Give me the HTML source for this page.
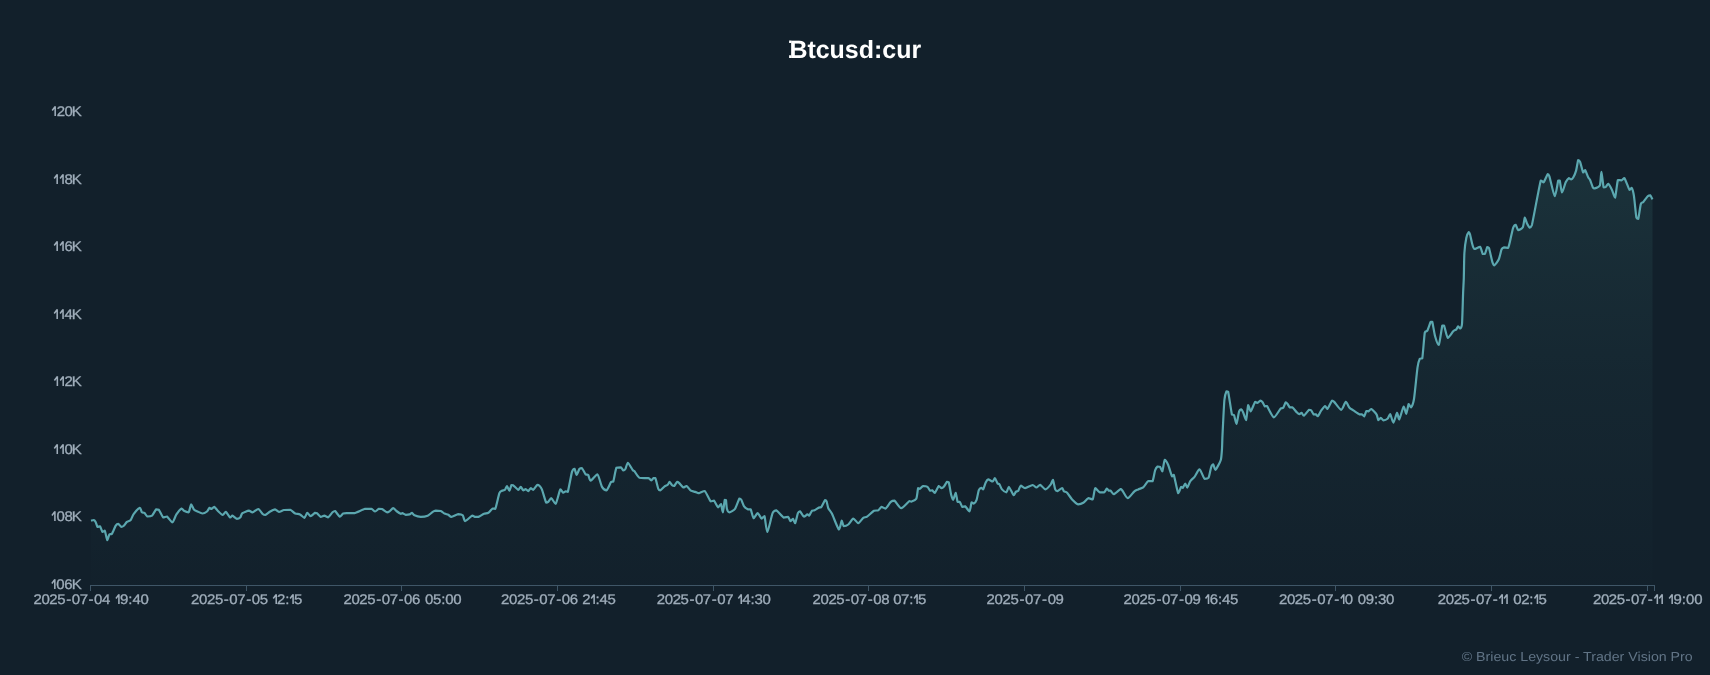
<!DOCTYPE html>
<html><head><meta charset="utf-8"><title>Btcusd:cur</title>
<style>
html,body{margin:0;padding:0;background:#12202b;}
body{width:1710px;height:675px;overflow:hidden;font-family:"Liberation Sans",sans-serif;}
svg{display:block;font-family:"Liberation Sans",sans-serif;will-change:transform;}
text{text-rendering:geometricPrecision;}
</style></head><body>
<svg width="1710" height="675" viewBox="0 0 1710 675">
<defs><linearGradient id="g" x1="0" y1="160" x2="0" y2="585" gradientUnits="userSpaceOnUse"><stop offset="0" stop-color="#55a9a2" stop-opacity="0.135"/><stop offset="0.235" stop-color="#55a9a2" stop-opacity="0.092"/><stop offset="0.5" stop-color="#55a9a2" stop-opacity="0.052"/><stop offset="1" stop-color="#55a9a2" stop-opacity="0.005"/></linearGradient></defs>
<rect width="1710" height="675" fill="#12202b"/>
<path d="M91.0 520.7 C91.34 520.62 93.25 520.00 93.8 520.0 C94.35 520.14 95.16 521.07 95.6 521.9 C96.04 522.73 96.97 526.37 97.5 526.9 C98.03 526.90 99.40 526.30 100.0 526.3 C100.60 526.90 101.92 531.37 102.5 531.9 C103.08 531.90 104.22 530.70 104.8 530.7 C105.38 531.68 106.75 539.66 107.3 540.1 C107.85 540.10 108.85 535.16 109.4 534.4 C109.95 533.80 111.14 534.40 111.9 533.8 C112.66 532.76 114.94 526.90 115.7 525.7 C116.46 524.50 117.53 523.80 118.2 523.8 C118.87 523.94 120.63 526.67 121.3 526.9 C121.97 526.90 123.13 526.30 123.8 525.7 C124.47 525.10 126.07 522.58 126.9 521.9 C127.73 521.22 129.87 520.97 130.7 520.0 C131.53 519.03 132.71 515.26 133.8 513.8 C134.89 512.34 138.83 507.98 139.8 507.8 C140.77 507.80 141.35 511.70 141.9 512.3 C142.45 512.80 143.75 512.30 144.4 512.8 C145.05 513.30 146.39 516.15 147.3 516.5 C148.21 516.50 150.94 516.50 152.0 515.7 C153.06 514.85 155.28 510.11 156.1 509.4 C156.92 509.40 157.95 509.40 158.8 509.8 C159.65 510.77 162.22 516.70 163.2 517.5 C164.18 517.50 165.90 516.50 167.0 516.5 C168.10 517.08 171.27 522.30 172.4 522.3 C173.53 522.05 175.30 516.06 176.4 514.4 C177.50 512.74 180.70 508.94 181.6 508.5 C182.50 508.50 183.06 510.24 183.9 510.7 C184.74 511.16 187.74 512.30 188.6 512.3 C189.46 511.54 190.46 504.75 191.1 504.4 C191.74 504.40 193.12 508.55 193.9 509.4 C194.68 510.25 196.58 511.01 197.6 511.5 C198.62 511.99 201.27 513.50 202.4 513.5 C203.53 513.50 206.15 512.18 207.0 511.5 C207.85 510.82 208.97 508.10 209.5 507.8 C210.03 507.80 210.84 509.00 211.4 509.0 C211.96 508.89 213.44 506.90 214.2 506.9 C214.96 507.10 216.68 509.73 217.7 510.7 C218.72 511.67 221.73 514.86 222.7 515.0 C223.67 515.00 224.90 511.90 225.8 511.9 C226.70 512.20 229.41 517.04 230.2 517.5 C230.99 517.50 231.62 515.70 232.4 515.7 C233.18 515.86 235.76 518.58 236.7 518.8 C237.64 518.80 239.52 518.17 240.2 517.5 C240.88 516.83 241.36 514.02 242.4 513.2 C243.44 512.38 247.70 510.81 248.9 510.7 C250.10 510.70 251.27 512.30 252.4 512.3 C253.53 512.10 257.06 509.00 258.3 509.0 C259.54 509.20 261.87 513.28 262.7 514.0 C263.53 514.72 264.30 515.00 265.2 515.0 C266.10 514.70 269.02 512.17 270.2 511.5 C271.38 510.83 273.94 509.40 275.0 509.4 C276.06 509.45 277.92 511.83 279.0 511.9 C280.08 511.90 282.66 510.25 284.0 510.0 C285.34 509.80 288.86 509.80 290.2 509.8 C291.54 510.22 294.02 512.95 295.2 513.5 C296.38 514.05 298.90 513.88 300.0 514.4 C301.10 514.92 303.52 517.80 304.4 517.8 C305.28 517.61 306.56 513.00 307.3 512.8 C308.04 512.80 309.68 516.10 310.6 516.1 C311.52 516.10 314.24 513.15 315.0 512.8 C315.76 512.80 316.22 512.80 316.9 513.2 C317.58 513.69 319.80 516.60 320.7 516.9 C321.60 516.90 323.50 515.70 324.4 515.7 C325.30 515.75 327.23 517.30 328.2 517.3 C329.17 516.89 331.68 513.06 332.5 512.3 C333.32 511.54 334.12 511.00 335.0 511.0 C335.88 511.52 338.82 516.29 339.8 516.6 C340.78 516.60 342.26 514.01 343.2 513.6 C344.14 513.20 346.26 513.25 347.6 513.2 C348.94 513.20 352.30 513.20 354.4 513.2 C356.50 512.67 363.07 509.33 365.1 508.8 C367.13 508.80 370.10 508.80 371.3 508.8 C372.50 509.12 374.20 511.50 375.1 511.5 C376.00 511.50 377.97 509.10 378.8 508.8 C379.63 508.80 381.02 508.80 382.0 509.0 C382.98 509.42 386.10 512.02 387.0 512.3 C387.90 512.30 388.76 511.79 389.5 511.3 C390.24 510.81 392.37 508.24 393.2 508.2 C394.03 508.20 395.50 510.33 396.4 511.0 C397.30 511.67 399.98 513.54 400.7 513.8 C401.42 513.80 401.79 513.20 402.4 513.2 C403.01 513.32 404.95 514.66 405.8 514.8 C406.65 514.80 408.76 514.64 409.5 514.4 C410.24 514.16 411.40 512.80 412.0 512.8 C412.60 512.91 413.44 514.81 414.5 515.3 C415.56 515.79 419.22 516.85 420.8 516.9 C422.38 516.90 426.27 516.30 427.7 515.7 C429.13 515.10 431.73 512.50 432.7 511.9 C433.67 511.30 434.83 510.81 435.8 510.7 C436.77 510.70 439.76 510.70 440.8 511.0 C441.84 511.35 443.60 513.14 444.5 513.6 C445.40 514.06 447.47 514.40 448.3 514.8 C449.13 515.20 450.20 516.90 451.4 516.9 C452.60 516.82 456.94 514.29 458.3 514.1 C459.66 514.10 461.87 514.46 462.7 515.3 C463.53 516.14 464.07 521.05 465.2 521.1 C466.33 521.10 470.90 516.20 472.1 515.7 C473.30 515.70 474.46 516.76 475.2 516.9 C475.94 516.90 477.24 516.90 478.3 516.9 C479.36 516.53 482.79 514.29 484.0 513.8 C485.21 513.31 487.38 513.42 488.4 512.8 C489.42 512.18 491.67 509.08 492.5 508.6 C493.33 508.60 494.47 508.80 495.3 508.8 C496.13 506.95 498.61 495.37 499.4 493.2 C500.19 491.03 501.23 491.11 501.9 490.7 C502.57 490.29 504.40 490.36 505.0 489.8 C505.60 489.24 506.37 486.00 506.9 486.0 C507.43 486.11 508.85 490.70 509.4 490.7 C509.95 490.58 511.04 485.65 511.5 485.0 C511.96 485.00 512.40 485.00 513.2 485.3 C514.00 485.88 517.30 489.61 518.2 489.8 C519.10 489.80 520.10 486.90 520.7 486.9 C521.30 486.96 522.60 490.04 523.2 490.3 C523.80 490.30 525.10 489.10 525.7 489.1 C526.30 489.20 527.60 491.10 528.2 491.1 C528.80 490.99 530.10 488.36 530.7 488.2 C531.30 488.20 532.41 489.80 533.2 489.8 C533.99 489.39 536.56 485.29 537.3 484.8 C538.04 484.80 538.85 485.15 539.4 485.7 C539.95 486.25 541.10 487.37 541.9 489.4 C542.70 491.43 545.34 501.10 546.1 502.6 C546.86 502.60 547.58 502.43 548.2 501.9 C548.82 501.37 550.40 498.20 551.3 498.2 C552.20 498.43 554.62 503.80 555.7 503.8 C556.78 502.74 559.40 490.74 560.3 489.4 C561.20 489.40 562.55 492.37 563.2 492.6 C563.85 492.60 565.15 491.38 565.7 491.3 C566.25 491.30 567.04 491.90 567.8 491.9 C568.56 489.57 571.20 474.67 572.0 471.9 C572.80 469.13 573.95 468.80 574.5 468.8 C575.05 469.15 576.00 474.80 576.6 474.8 C577.20 474.80 578.85 469.59 579.5 468.8 C580.15 468.20 581.26 468.20 582.0 468.2 C582.74 468.87 584.96 473.58 585.7 474.4 C586.44 475.00 587.60 474.40 588.2 475.0 C588.80 475.76 589.60 480.70 590.7 480.7 C591.80 480.63 596.04 474.40 597.4 474.4 C598.76 475.14 600.90 484.99 602.0 486.9 C603.10 488.81 605.51 490.30 606.6 490.3 C607.69 489.70 610.30 482.96 611.1 481.9 C611.90 481.50 612.66 481.90 613.3 481.5 C613.94 479.81 615.50 469.50 616.4 467.8 C617.30 467.30 619.97 467.30 620.8 467.3 C621.63 467.61 622.75 470.20 623.3 470.4 C623.85 470.40 624.85 469.91 625.4 469.0 C625.95 468.09 627.02 462.80 627.9 462.8 C628.78 462.92 631.91 468.98 632.7 470.0 C633.49 471.02 633.68 470.36 634.5 471.3 C635.32 472.24 637.84 476.97 639.5 477.8 C641.16 478.20 646.87 477.90 648.3 478.2 C649.73 478.50 650.80 480.30 651.4 480.3 C652.00 480.30 652.82 478.45 653.3 478.2 C653.78 478.20 654.80 478.20 655.4 478.2 C656.00 479.47 657.70 487.35 658.3 488.8 C658.90 490.25 659.64 490.30 660.4 490.3 C661.16 490.00 663.72 486.96 664.6 486.3 C665.48 485.64 667.10 485.33 667.7 484.8 C668.30 484.27 669.07 481.90 669.6 481.9 C670.13 481.96 671.55 484.81 672.1 485.3 C672.65 485.79 673.60 486.00 674.2 486.0 C674.80 485.59 676.52 482.28 677.1 481.9 C677.68 481.90 678.24 482.13 679.0 482.8 C679.76 483.47 682.50 487.12 683.4 487.5 C684.30 487.50 685.60 486.00 686.5 486.0 C687.40 486.38 689.86 489.99 690.9 490.7 C691.94 491.41 694.30 491.60 695.2 491.9 C696.10 492.20 697.82 493.09 698.4 493.2 C698.98 493.20 699.23 493.06 700.0 492.8 C700.77 492.54 703.53 491.00 704.8 491.0 C706.07 492.02 709.50 500.14 710.6 501.3 C711.70 501.30 713.10 500.70 714.0 500.7 C714.90 501.42 717.26 506.89 718.1 507.3 C718.94 507.30 720.44 504.10 721.0 504.1 C721.56 504.70 722.34 512.30 722.8 512.3 C723.26 511.78 724.42 501.28 724.8 499.8 C725.18 499.80 725.75 499.80 726.0 500.0 C726.25 501.08 726.49 507.32 726.9 508.8 C727.31 510.28 728.43 512.30 729.4 512.3 C730.37 512.30 733.80 510.46 735.0 508.8 C736.20 507.14 738.64 499.58 739.4 498.5 C740.16 498.50 740.74 498.86 741.3 499.8 C741.86 500.74 743.27 505.15 744.1 506.3 C744.93 507.45 747.41 509.03 748.2 509.4 C748.99 509.40 750.05 509.40 750.7 509.4 C751.35 510.46 752.77 517.74 753.6 518.2 C754.43 518.20 756.64 513.20 757.6 513.2 C758.56 513.25 760.77 518.25 761.6 518.6 C762.43 518.60 763.82 516.10 764.5 516.1 C765.18 517.71 766.33 532.00 767.3 532.0 C768.27 531.65 771.52 515.80 772.6 513.2 C773.68 510.60 774.98 510.30 776.3 510.3 C777.62 510.83 782.17 516.81 783.6 517.6 C785.03 517.60 787.38 516.90 788.2 516.9 C789.02 517.32 789.84 520.87 790.4 521.1 C790.96 521.10 792.34 518.80 792.9 518.8 C793.46 519.05 794.50 523.20 795.1 523.2 C795.70 522.53 797.32 514.63 797.9 513.2 C798.48 511.77 799.18 511.30 799.9 511.3 C800.62 511.71 803.00 516.23 803.9 516.6 C804.80 516.60 806.78 514.51 807.4 514.4 C808.02 514.40 808.55 515.70 809.1 515.7 C809.65 515.26 811.35 511.35 812.0 510.7 C812.65 510.30 813.67 510.67 814.5 510.3 C815.33 509.93 818.11 507.96 818.9 507.6 C819.69 507.30 820.36 507.60 821.1 507.3 C821.84 506.39 824.44 500.72 825.1 500.0 C825.76 500.00 826.22 500.32 826.6 501.3 C826.98 502.28 827.65 506.70 828.3 508.2 C828.95 509.70 830.73 511.24 832.0 513.8 C833.27 516.36 837.74 528.67 838.9 529.5 C840.06 529.50 841.12 521.11 841.7 520.7 C842.28 520.70 842.91 525.64 843.7 526.1 C844.49 526.10 847.15 525.40 848.3 524.5 C849.45 523.60 852.10 518.76 853.3 518.6 C854.50 518.60 857.10 523.20 858.3 523.2 C859.50 523.10 862.24 518.59 863.3 517.8 C864.36 517.01 865.82 517.45 867.1 516.6 C868.38 515.75 872.66 511.46 874.0 510.7 C875.34 510.30 877.40 510.70 878.3 510.3 C879.20 509.84 880.64 507.10 881.5 506.9 C882.36 506.90 884.38 508.60 885.5 508.6 C886.62 508.00 889.71 502.85 890.8 501.9 C891.89 500.95 893.35 500.70 894.6 500.7 C895.85 501.46 899.42 508.15 901.2 508.2 C902.98 508.20 908.19 501.89 909.4 501.1 C910.35 501.10 910.47 501.60 911.3 501.6 C912.13 501.32 915.48 500.41 916.3 498.8 C917.12 497.19 917.68 489.40 918.1 488.2 C918.52 488.20 919.20 488.80 919.8 488.8 C920.40 488.54 922.18 486.23 923.1 486.0 C924.02 486.00 926.67 486.34 927.5 486.9 C928.33 487.46 929.42 490.29 930.0 490.7 C930.58 490.70 931.72 490.30 932.3 490.3 C932.88 490.55 934.02 492.80 934.8 492.8 C935.58 492.28 938.00 486.55 938.8 486.0 C939.60 486.00 940.88 488.14 941.5 488.2 C942.12 488.20 943.35 487.26 944.0 486.5 C944.65 485.74 946.32 482.40 946.9 481.9 C947.48 481.90 948.30 481.90 948.8 482.3 C949.30 483.80 950.57 492.30 951.1 494.4 C951.63 496.50 952.65 499.80 953.2 499.8 C953.75 499.61 955.17 492.80 955.7 492.8 C956.23 493.05 957.11 500.81 957.6 501.9 C958.09 501.90 959.24 501.90 959.8 501.9 C960.36 502.50 961.66 506.37 962.3 506.9 C962.94 506.90 964.24 506.30 965.1 506.3 C965.96 506.83 968.72 511.30 969.5 511.3 C970.28 510.82 971.08 503.22 971.6 502.3 C972.12 502.30 973.20 503.60 973.8 503.6 C974.40 503.30 976.00 501.42 976.6 499.8 C977.20 498.18 978.24 491.54 978.8 490.1 C979.36 488.66 980.77 487.88 981.3 487.8 C981.83 487.80 982.67 489.40 983.2 489.4 C983.73 488.76 985.10 483.70 985.7 482.5 C986.30 481.30 987.37 479.52 988.2 479.4 C989.03 479.40 991.80 481.50 992.6 481.5 C993.40 481.36 994.30 478.20 994.9 478.2 C995.50 478.44 997.05 482.76 997.6 483.5 C998.15 484.24 998.97 483.69 999.5 484.4 C1000.03 485.11 1001.17 488.45 1002.0 489.4 C1002.83 490.35 1005.57 492.30 1006.4 492.3 C1007.23 492.00 1008.04 486.90 1008.9 486.9 C1009.76 487.24 1012.77 494.50 1013.6 495.1 C1014.43 495.10 1015.24 492.43 1015.8 491.9 C1016.36 491.37 1017.70 491.44 1018.3 490.7 C1018.90 489.96 1019.98 486.00 1020.8 485.7 C1021.62 485.70 1023.68 488.20 1025.1 488.2 C1026.52 488.12 1031.24 485.08 1032.6 485.0 C1033.96 485.00 1035.49 487.50 1036.4 487.5 C1037.31 487.48 1039.12 484.80 1040.2 484.8 C1041.28 485.03 1044.13 489.40 1045.4 489.4 C1046.67 489.35 1049.90 485.55 1050.8 484.4 C1051.70 483.25 1052.37 479.80 1052.9 479.8 C1053.43 480.40 1054.66 488.04 1055.2 489.4 C1055.74 490.76 1056.57 491.10 1057.4 491.1 C1058.23 490.96 1061.32 488.20 1062.1 488.2 C1062.88 488.22 1063.30 490.75 1063.9 491.3 C1064.50 491.85 1066.12 491.83 1067.1 492.8 C1068.08 493.77 1070.76 498.01 1072.1 499.4 C1073.44 500.79 1076.96 503.99 1078.3 504.4 C1079.64 504.40 1082.10 503.54 1083.3 502.8 C1084.50 502.06 1087.17 498.61 1088.3 498.2 C1089.43 498.20 1091.87 499.40 1092.7 499.4 C1093.53 498.20 1094.37 489.05 1095.2 488.2 C1096.03 488.20 1098.52 491.81 1099.6 492.3 C1100.68 492.30 1103.32 492.30 1104.2 492.3 C1105.08 491.86 1106.35 488.79 1106.9 488.6 C1107.45 488.60 1108.36 490.45 1108.8 490.7 C1109.24 490.70 1109.98 490.70 1110.6 490.7 C1111.22 491.11 1112.80 494.10 1114.0 494.1 C1115.20 493.91 1119.58 489.51 1120.6 489.1 C1121.55 489.10 1121.64 489.61 1122.5 490.7 C1123.36 491.79 1126.37 498.13 1127.8 498.2 C1129.23 498.20 1133.15 492.36 1134.4 491.3 C1135.65 490.24 1137.14 489.88 1138.2 489.4 C1139.26 488.92 1142.00 488.30 1143.2 487.3 C1144.40 486.30 1147.07 481.84 1148.2 481.1 C1149.33 481.10 1151.77 481.10 1152.6 481.1 C1153.43 479.80 1154.50 472.05 1155.1 470.3 C1155.70 468.55 1157.00 466.91 1157.6 466.5 C1158.20 466.50 1159.54 466.50 1160.1 466.9 C1160.66 467.48 1161.74 471.30 1162.3 471.3 C1162.86 470.45 1164.09 460.56 1164.8 459.8 C1165.51 459.80 1167.34 463.02 1168.2 465.0 C1169.06 466.98 1171.33 475.12 1172.0 476.3 C1172.67 476.30 1173.06 474.80 1173.8 474.8 C1174.54 476.83 1177.32 491.75 1178.2 493.2 C1179.08 493.20 1180.55 487.55 1181.1 486.9 C1181.65 486.90 1182.30 487.80 1182.8 487.8 C1183.30 487.40 1184.76 483.62 1185.3 483.6 C1185.84 483.60 1186.70 487.60 1187.3 487.6 C1187.90 487.30 1189.44 482.38 1190.3 481.1 C1191.16 479.82 1193.40 478.30 1194.5 476.9 C1195.60 475.50 1198.30 469.40 1199.5 469.4 C1200.70 469.63 1203.41 477.82 1204.5 478.8 C1205.59 478.80 1207.81 478.80 1208.6 477.6 C1209.39 476.22 1210.54 468.88 1211.1 467.3 C1211.66 465.72 1212.78 464.40 1213.3 464.4 C1213.82 464.70 1214.50 469.80 1215.4 469.8 C1216.30 469.27 1220.01 462.52 1220.8 460.0 C1221.40 458.09 1221.80 451.79 1222.0 448.8 C1222.20 445.81 1222.25 440.18 1222.5 435.1 C1222.79 429.24 1223.92 405.26 1224.4 400.0 C1224.88 394.74 1226.04 392.27 1226.5 391.3 C1226.96 391.30 1227.55 391.30 1228.2 391.9 C1228.85 394.67 1231.20 411.62 1231.9 414.4 C1232.60 415.10 1233.45 414.40 1234.0 415.1 C1234.55 416.23 1235.90 423.80 1236.5 423.8 C1237.10 423.42 1238.42 413.63 1239.0 411.9 C1239.58 410.17 1240.80 409.40 1241.3 409.4 C1241.80 409.47 1242.62 411.22 1243.2 412.5 C1243.78 413.78 1245.50 420.10 1246.1 420.1 C1246.70 419.20 1247.65 406.06 1248.2 405.0 C1248.75 405.00 1249.87 411.30 1250.7 411.3 C1251.53 410.93 1254.27 402.92 1255.1 401.9 C1255.93 401.90 1256.98 402.80 1257.6 402.8 C1258.22 402.66 1259.70 400.76 1260.3 400.7 C1260.90 400.70 1262.06 401.63 1262.6 402.3 C1263.14 402.97 1264.27 405.86 1264.8 406.3 C1265.33 406.30 1265.92 406.00 1267.0 406.0 C1268.08 407.32 1272.16 417.00 1273.8 417.3 C1275.44 417.30 1279.57 409.64 1280.7 408.5 C1281.83 407.80 1282.60 408.50 1283.2 407.8 C1283.80 407.06 1285.17 402.76 1285.7 402.3 C1286.23 402.30 1287.10 403.38 1287.6 404.0 C1288.10 404.62 1289.32 407.10 1289.9 407.5 C1290.48 407.50 1291.55 407.30 1292.4 407.3 C1293.25 407.90 1296.15 411.68 1297.0 412.5 C1297.85 413.32 1298.95 414.06 1299.5 414.1 C1300.05 414.10 1301.07 412.80 1301.6 412.8 C1302.13 412.99 1303.02 415.70 1303.9 415.7 C1304.78 415.34 1308.04 410.45 1308.9 409.8 C1309.76 409.80 1310.54 409.80 1311.1 410.3 C1311.66 410.85 1313.04 413.91 1313.6 414.4 C1314.16 414.40 1315.28 414.40 1315.8 414.4 C1316.32 414.60 1317.26 416.10 1317.9 416.1 C1318.54 415.66 1320.24 411.91 1321.1 410.7 C1321.96 409.49 1324.34 406.20 1325.1 406.0 C1325.86 406.00 1326.57 409.00 1327.4 409.0 C1328.23 408.36 1331.18 401.55 1332.0 400.7 C1332.82 400.70 1333.10 400.81 1334.2 401.9 C1335.30 402.99 1339.81 409.80 1341.2 409.8 C1342.59 409.80 1344.80 402.14 1345.8 401.9 C1346.80 401.90 1348.60 406.79 1349.5 407.8 C1350.40 408.81 1352.09 409.51 1353.3 410.3 C1354.51 411.09 1358.54 413.91 1359.6 414.4 C1360.66 414.40 1361.55 414.40 1362.1 414.4 C1362.65 414.63 1363.68 416.30 1364.2 416.3 C1364.72 415.89 1365.86 411.60 1366.4 411.0 C1366.94 411.00 1368.12 411.30 1368.7 411.3 C1369.28 411.06 1370.26 409.00 1371.2 409.0 C1372.14 409.37 1375.65 413.07 1376.5 414.4 C1377.35 415.73 1377.78 419.69 1378.3 420.1 C1378.82 420.10 1380.20 417.80 1380.8 417.8 C1381.40 417.82 1382.50 420.18 1383.3 420.3 C1384.10 420.30 1386.67 419.54 1387.5 418.8 C1388.33 418.06 1389.49 414.10 1390.2 414.1 C1390.91 414.56 1392.57 422.60 1393.4 422.6 C1394.23 422.44 1396.40 413.18 1397.1 412.8 C1397.80 412.80 1398.41 419.40 1399.2 419.4 C1399.99 418.64 1402.86 407.17 1403.7 406.5 C1404.54 406.50 1405.60 413.80 1406.2 413.8 C1406.80 413.50 1408.14 404.76 1408.7 404.0 C1409.26 404.00 1410.26 407.50 1410.9 407.5 C1411.54 406.90 1413.21 403.79 1414.0 399.0 C1414.79 394.21 1416.80 372.42 1417.5 367.6 C1418.20 362.78 1419.22 359.93 1419.8 358.8 C1420.38 358.20 1421.70 358.80 1422.3 358.2 C1422.90 355.04 1424.20 335.81 1424.8 332.5 C1425.40 330.60 1426.59 331.87 1427.3 330.6 C1428.01 329.33 1430.10 322.94 1430.7 321.9 C1431.30 321.90 1431.77 321.90 1432.3 321.9 C1432.83 323.63 1434.32 333.53 1435.1 336.3 C1435.88 339.07 1437.94 345.00 1438.8 345.0 C1439.66 343.72 1441.66 327.93 1442.3 325.6 C1442.94 325.60 1443.44 325.60 1444.1 325.6 C1444.76 327.06 1446.71 337.12 1447.8 337.8 C1448.89 337.80 1452.18 332.31 1453.2 331.3 C1454.22 330.29 1455.70 330.00 1456.3 329.4 C1456.90 328.80 1457.74 326.41 1458.2 326.3 C1458.66 326.30 1459.64 328.50 1460.1 328.5 C1460.56 328.22 1461.64 328.25 1462.0 324.0 C1462.36 319.75 1462.88 298.61 1463.1 293.1 C1463.32 287.59 1463.64 282.91 1463.8 278.1 C1463.96 273.29 1464.10 257.81 1464.4 253.0 C1464.70 248.19 1465.77 240.52 1466.3 238.0 C1466.83 235.48 1468.36 232.44 1468.8 232.0 C1469.24 232.00 1469.58 232.82 1470.0 234.3 C1470.42 235.78 1471.77 242.54 1472.3 244.3 C1472.83 246.06 1473.48 248.70 1474.4 249.0 C1475.32 249.00 1478.99 246.80 1480.0 246.8 C1481.01 247.40 1482.20 253.17 1482.8 254.0 C1483.40 254.00 1484.46 254.00 1485.0 253.7 C1485.54 252.86 1486.82 247.68 1487.3 247.0 C1487.78 247.00 1488.38 247.00 1489.0 248.0 C1489.62 249.85 1491.85 260.32 1492.5 262.4 C1493.15 264.48 1493.64 265.30 1494.4 265.3 C1495.16 264.93 1497.94 261.22 1498.8 259.3 C1499.66 257.38 1500.96 250.73 1501.6 249.3 C1502.24 247.87 1503.31 247.58 1504.1 247.4 C1504.89 247.40 1507.34 247.80 1508.2 247.8 C1509.06 246.37 1510.70 237.92 1511.3 235.5 C1511.90 233.08 1512.67 228.88 1513.2 227.6 C1513.73 226.32 1515.10 224.80 1515.7 224.8 C1516.30 225.10 1517.35 229.80 1518.2 230.1 C1519.05 230.10 1522.01 228.80 1522.8 227.3 C1523.59 225.80 1524.31 218.09 1524.8 217.6 C1525.29 217.60 1526.30 222.00 1526.9 223.2 C1527.50 224.40 1529.20 227.37 1529.8 227.6 C1530.40 227.60 1530.85 227.60 1531.9 225.1 C1533.21 219.47 1539.30 185.84 1540.7 180.7 C1542.10 180.70 1542.75 182.30 1543.6 182.3 C1544.45 181.50 1547.10 174.72 1547.8 174.0 C1548.50 174.00 1548.60 174.00 1549.4 176.3 C1550.24 178.95 1553.74 195.57 1554.8 196.1 C1555.86 196.10 1557.60 182.55 1558.2 180.7 C1558.80 180.70 1559.34 180.70 1559.8 180.7 C1560.26 182.12 1561.29 192.31 1562.0 192.5 C1562.71 192.50 1564.88 184.02 1565.7 182.3 C1566.52 180.58 1568.15 178.55 1568.8 178.2 C1569.45 178.20 1570.57 179.40 1571.1 179.4 C1571.63 179.32 1572.60 178.56 1573.2 177.5 C1573.80 176.44 1575.50 172.70 1576.1 170.6 C1576.70 168.50 1577.72 161.04 1578.2 160.0 C1578.68 160.00 1579.50 160.40 1580.1 161.9 C1580.70 163.40 1582.60 171.53 1583.2 172.5 C1583.80 172.50 1584.50 170.00 1585.1 170.0 C1585.70 170.58 1587.60 176.10 1588.2 177.3 C1588.80 178.50 1589.54 178.78 1590.1 180.0 C1590.66 181.22 1592.37 186.48 1592.9 187.5 C1593.43 188.50 1593.70 188.50 1594.5 188.5 C1595.34 188.24 1599.07 187.29 1599.9 185.3 C1600.65 183.50 1600.96 171.90 1601.4 171.9 C1601.84 172.14 1603.07 185.50 1603.6 187.3 C1604.13 187.30 1605.24 187.30 1605.8 186.9 C1606.36 186.48 1607.56 183.80 1608.3 183.8 C1609.04 184.17 1611.18 188.34 1612.0 190.0 C1612.82 191.66 1614.39 197.60 1615.1 197.6 C1615.81 196.40 1617.11 182.08 1617.9 180.0 C1618.69 180.00 1620.91 180.30 1621.7 180.3 C1622.49 180.08 1623.56 178.20 1624.5 178.2 C1625.44 179.34 1628.64 188.65 1629.5 189.8 C1630.36 189.80 1631.17 187.80 1631.7 187.8 C1632.23 188.51 1633.34 192.12 1633.9 195.7 C1634.46 199.28 1635.87 214.83 1636.4 217.6 C1636.93 218.80 1637.77 218.80 1638.3 218.8 C1638.83 217.18 1640.20 206.13 1640.8 204.1 C1641.40 202.07 1642.47 202.84 1643.3 201.9 C1644.13 200.96 1646.87 197.09 1647.7 196.3 C1648.53 195.51 1649.62 195.30 1650.2 195.3 C1650.78 195.67 1652.22 198.91 1652.5 199.4 L1652.5 585.5 L91.0 585.5 Z" fill="url(#g)"/>
<path d="M91.0 520.7 C91.34 520.62 93.25 520.00 93.8 520.0 C94.35 520.14 95.16 521.07 95.6 521.9 C96.04 522.73 96.97 526.37 97.5 526.9 C98.03 526.90 99.40 526.30 100.0 526.3 C100.60 526.90 101.92 531.37 102.5 531.9 C103.08 531.90 104.22 530.70 104.8 530.7 C105.38 531.68 106.75 539.66 107.3 540.1 C107.85 540.10 108.85 535.16 109.4 534.4 C109.95 533.80 111.14 534.40 111.9 533.8 C112.66 532.76 114.94 526.90 115.7 525.7 C116.46 524.50 117.53 523.80 118.2 523.8 C118.87 523.94 120.63 526.67 121.3 526.9 C121.97 526.90 123.13 526.30 123.8 525.7 C124.47 525.10 126.07 522.58 126.9 521.9 C127.73 521.22 129.87 520.97 130.7 520.0 C131.53 519.03 132.71 515.26 133.8 513.8 C134.89 512.34 138.83 507.98 139.8 507.8 C140.77 507.80 141.35 511.70 141.9 512.3 C142.45 512.80 143.75 512.30 144.4 512.8 C145.05 513.30 146.39 516.15 147.3 516.5 C148.21 516.50 150.94 516.50 152.0 515.7 C153.06 514.85 155.28 510.11 156.1 509.4 C156.92 509.40 157.95 509.40 158.8 509.8 C159.65 510.77 162.22 516.70 163.2 517.5 C164.18 517.50 165.90 516.50 167.0 516.5 C168.10 517.08 171.27 522.30 172.4 522.3 C173.53 522.05 175.30 516.06 176.4 514.4 C177.50 512.74 180.70 508.94 181.6 508.5 C182.50 508.50 183.06 510.24 183.9 510.7 C184.74 511.16 187.74 512.30 188.6 512.3 C189.46 511.54 190.46 504.75 191.1 504.4 C191.74 504.40 193.12 508.55 193.9 509.4 C194.68 510.25 196.58 511.01 197.6 511.5 C198.62 511.99 201.27 513.50 202.4 513.5 C203.53 513.50 206.15 512.18 207.0 511.5 C207.85 510.82 208.97 508.10 209.5 507.8 C210.03 507.80 210.84 509.00 211.4 509.0 C211.96 508.89 213.44 506.90 214.2 506.9 C214.96 507.10 216.68 509.73 217.7 510.7 C218.72 511.67 221.73 514.86 222.7 515.0 C223.67 515.00 224.90 511.90 225.8 511.9 C226.70 512.20 229.41 517.04 230.2 517.5 C230.99 517.50 231.62 515.70 232.4 515.7 C233.18 515.86 235.76 518.58 236.7 518.8 C237.64 518.80 239.52 518.17 240.2 517.5 C240.88 516.83 241.36 514.02 242.4 513.2 C243.44 512.38 247.70 510.81 248.9 510.7 C250.10 510.70 251.27 512.30 252.4 512.3 C253.53 512.10 257.06 509.00 258.3 509.0 C259.54 509.20 261.87 513.28 262.7 514.0 C263.53 514.72 264.30 515.00 265.2 515.0 C266.10 514.70 269.02 512.17 270.2 511.5 C271.38 510.83 273.94 509.40 275.0 509.4 C276.06 509.45 277.92 511.83 279.0 511.9 C280.08 511.90 282.66 510.25 284.0 510.0 C285.34 509.80 288.86 509.80 290.2 509.8 C291.54 510.22 294.02 512.95 295.2 513.5 C296.38 514.05 298.90 513.88 300.0 514.4 C301.10 514.92 303.52 517.80 304.4 517.8 C305.28 517.61 306.56 513.00 307.3 512.8 C308.04 512.80 309.68 516.10 310.6 516.1 C311.52 516.10 314.24 513.15 315.0 512.8 C315.76 512.80 316.22 512.80 316.9 513.2 C317.58 513.69 319.80 516.60 320.7 516.9 C321.60 516.90 323.50 515.70 324.4 515.7 C325.30 515.75 327.23 517.30 328.2 517.3 C329.17 516.89 331.68 513.06 332.5 512.3 C333.32 511.54 334.12 511.00 335.0 511.0 C335.88 511.52 338.82 516.29 339.8 516.6 C340.78 516.60 342.26 514.01 343.2 513.6 C344.14 513.20 346.26 513.25 347.6 513.2 C348.94 513.20 352.30 513.20 354.4 513.2 C356.50 512.67 363.07 509.33 365.1 508.8 C367.13 508.80 370.10 508.80 371.3 508.8 C372.50 509.12 374.20 511.50 375.1 511.5 C376.00 511.50 377.97 509.10 378.8 508.8 C379.63 508.80 381.02 508.80 382.0 509.0 C382.98 509.42 386.10 512.02 387.0 512.3 C387.90 512.30 388.76 511.79 389.5 511.3 C390.24 510.81 392.37 508.24 393.2 508.2 C394.03 508.20 395.50 510.33 396.4 511.0 C397.30 511.67 399.98 513.54 400.7 513.8 C401.42 513.80 401.79 513.20 402.4 513.2 C403.01 513.32 404.95 514.66 405.8 514.8 C406.65 514.80 408.76 514.64 409.5 514.4 C410.24 514.16 411.40 512.80 412.0 512.8 C412.60 512.91 413.44 514.81 414.5 515.3 C415.56 515.79 419.22 516.85 420.8 516.9 C422.38 516.90 426.27 516.30 427.7 515.7 C429.13 515.10 431.73 512.50 432.7 511.9 C433.67 511.30 434.83 510.81 435.8 510.7 C436.77 510.70 439.76 510.70 440.8 511.0 C441.84 511.35 443.60 513.14 444.5 513.6 C445.40 514.06 447.47 514.40 448.3 514.8 C449.13 515.20 450.20 516.90 451.4 516.9 C452.60 516.82 456.94 514.29 458.3 514.1 C459.66 514.10 461.87 514.46 462.7 515.3 C463.53 516.14 464.07 521.05 465.2 521.1 C466.33 521.10 470.90 516.20 472.1 515.7 C473.30 515.70 474.46 516.76 475.2 516.9 C475.94 516.90 477.24 516.90 478.3 516.9 C479.36 516.53 482.79 514.29 484.0 513.8 C485.21 513.31 487.38 513.42 488.4 512.8 C489.42 512.18 491.67 509.08 492.5 508.6 C493.33 508.60 494.47 508.80 495.3 508.8 C496.13 506.95 498.61 495.37 499.4 493.2 C500.19 491.03 501.23 491.11 501.9 490.7 C502.57 490.29 504.40 490.36 505.0 489.8 C505.60 489.24 506.37 486.00 506.9 486.0 C507.43 486.11 508.85 490.70 509.4 490.7 C509.95 490.58 511.04 485.65 511.5 485.0 C511.96 485.00 512.40 485.00 513.2 485.3 C514.00 485.88 517.30 489.61 518.2 489.8 C519.10 489.80 520.10 486.90 520.7 486.9 C521.30 486.96 522.60 490.04 523.2 490.3 C523.80 490.30 525.10 489.10 525.7 489.1 C526.30 489.20 527.60 491.10 528.2 491.1 C528.80 490.99 530.10 488.36 530.7 488.2 C531.30 488.20 532.41 489.80 533.2 489.8 C533.99 489.39 536.56 485.29 537.3 484.8 C538.04 484.80 538.85 485.15 539.4 485.7 C539.95 486.25 541.10 487.37 541.9 489.4 C542.70 491.43 545.34 501.10 546.1 502.6 C546.86 502.60 547.58 502.43 548.2 501.9 C548.82 501.37 550.40 498.20 551.3 498.2 C552.20 498.43 554.62 503.80 555.7 503.8 C556.78 502.74 559.40 490.74 560.3 489.4 C561.20 489.40 562.55 492.37 563.2 492.6 C563.85 492.60 565.15 491.38 565.7 491.3 C566.25 491.30 567.04 491.90 567.8 491.9 C568.56 489.57 571.20 474.67 572.0 471.9 C572.80 469.13 573.95 468.80 574.5 468.8 C575.05 469.15 576.00 474.80 576.6 474.8 C577.20 474.80 578.85 469.59 579.5 468.8 C580.15 468.20 581.26 468.20 582.0 468.2 C582.74 468.87 584.96 473.58 585.7 474.4 C586.44 475.00 587.60 474.40 588.2 475.0 C588.80 475.76 589.60 480.70 590.7 480.7 C591.80 480.63 596.04 474.40 597.4 474.4 C598.76 475.14 600.90 484.99 602.0 486.9 C603.10 488.81 605.51 490.30 606.6 490.3 C607.69 489.70 610.30 482.96 611.1 481.9 C611.90 481.50 612.66 481.90 613.3 481.5 C613.94 479.81 615.50 469.50 616.4 467.8 C617.30 467.30 619.97 467.30 620.8 467.3 C621.63 467.61 622.75 470.20 623.3 470.4 C623.85 470.40 624.85 469.91 625.4 469.0 C625.95 468.09 627.02 462.80 627.9 462.8 C628.78 462.92 631.91 468.98 632.7 470.0 C633.49 471.02 633.68 470.36 634.5 471.3 C635.32 472.24 637.84 476.97 639.5 477.8 C641.16 478.20 646.87 477.90 648.3 478.2 C649.73 478.50 650.80 480.30 651.4 480.3 C652.00 480.30 652.82 478.45 653.3 478.2 C653.78 478.20 654.80 478.20 655.4 478.2 C656.00 479.47 657.70 487.35 658.3 488.8 C658.90 490.25 659.64 490.30 660.4 490.3 C661.16 490.00 663.72 486.96 664.6 486.3 C665.48 485.64 667.10 485.33 667.7 484.8 C668.30 484.27 669.07 481.90 669.6 481.9 C670.13 481.96 671.55 484.81 672.1 485.3 C672.65 485.79 673.60 486.00 674.2 486.0 C674.80 485.59 676.52 482.28 677.1 481.9 C677.68 481.90 678.24 482.13 679.0 482.8 C679.76 483.47 682.50 487.12 683.4 487.5 C684.30 487.50 685.60 486.00 686.5 486.0 C687.40 486.38 689.86 489.99 690.9 490.7 C691.94 491.41 694.30 491.60 695.2 491.9 C696.10 492.20 697.82 493.09 698.4 493.2 C698.98 493.20 699.23 493.06 700.0 492.8 C700.77 492.54 703.53 491.00 704.8 491.0 C706.07 492.02 709.50 500.14 710.6 501.3 C711.70 501.30 713.10 500.70 714.0 500.7 C714.90 501.42 717.26 506.89 718.1 507.3 C718.94 507.30 720.44 504.10 721.0 504.1 C721.56 504.70 722.34 512.30 722.8 512.3 C723.26 511.78 724.42 501.28 724.8 499.8 C725.18 499.80 725.75 499.80 726.0 500.0 C726.25 501.08 726.49 507.32 726.9 508.8 C727.31 510.28 728.43 512.30 729.4 512.3 C730.37 512.30 733.80 510.46 735.0 508.8 C736.20 507.14 738.64 499.58 739.4 498.5 C740.16 498.50 740.74 498.86 741.3 499.8 C741.86 500.74 743.27 505.15 744.1 506.3 C744.93 507.45 747.41 509.03 748.2 509.4 C748.99 509.40 750.05 509.40 750.7 509.4 C751.35 510.46 752.77 517.74 753.6 518.2 C754.43 518.20 756.64 513.20 757.6 513.2 C758.56 513.25 760.77 518.25 761.6 518.6 C762.43 518.60 763.82 516.10 764.5 516.1 C765.18 517.71 766.33 532.00 767.3 532.0 C768.27 531.65 771.52 515.80 772.6 513.2 C773.68 510.60 774.98 510.30 776.3 510.3 C777.62 510.83 782.17 516.81 783.6 517.6 C785.03 517.60 787.38 516.90 788.2 516.9 C789.02 517.32 789.84 520.87 790.4 521.1 C790.96 521.10 792.34 518.80 792.9 518.8 C793.46 519.05 794.50 523.20 795.1 523.2 C795.70 522.53 797.32 514.63 797.9 513.2 C798.48 511.77 799.18 511.30 799.9 511.3 C800.62 511.71 803.00 516.23 803.9 516.6 C804.80 516.60 806.78 514.51 807.4 514.4 C808.02 514.40 808.55 515.70 809.1 515.7 C809.65 515.26 811.35 511.35 812.0 510.7 C812.65 510.30 813.67 510.67 814.5 510.3 C815.33 509.93 818.11 507.96 818.9 507.6 C819.69 507.30 820.36 507.60 821.1 507.3 C821.84 506.39 824.44 500.72 825.1 500.0 C825.76 500.00 826.22 500.32 826.6 501.3 C826.98 502.28 827.65 506.70 828.3 508.2 C828.95 509.70 830.73 511.24 832.0 513.8 C833.27 516.36 837.74 528.67 838.9 529.5 C840.06 529.50 841.12 521.11 841.7 520.7 C842.28 520.70 842.91 525.64 843.7 526.1 C844.49 526.10 847.15 525.40 848.3 524.5 C849.45 523.60 852.10 518.76 853.3 518.6 C854.50 518.60 857.10 523.20 858.3 523.2 C859.50 523.10 862.24 518.59 863.3 517.8 C864.36 517.01 865.82 517.45 867.1 516.6 C868.38 515.75 872.66 511.46 874.0 510.7 C875.34 510.30 877.40 510.70 878.3 510.3 C879.20 509.84 880.64 507.10 881.5 506.9 C882.36 506.90 884.38 508.60 885.5 508.6 C886.62 508.00 889.71 502.85 890.8 501.9 C891.89 500.95 893.35 500.70 894.6 500.7 C895.85 501.46 899.42 508.15 901.2 508.2 C902.98 508.20 908.19 501.89 909.4 501.1 C910.35 501.10 910.47 501.60 911.3 501.6 C912.13 501.32 915.48 500.41 916.3 498.8 C917.12 497.19 917.68 489.40 918.1 488.2 C918.52 488.20 919.20 488.80 919.8 488.8 C920.40 488.54 922.18 486.23 923.1 486.0 C924.02 486.00 926.67 486.34 927.5 486.9 C928.33 487.46 929.42 490.29 930.0 490.7 C930.58 490.70 931.72 490.30 932.3 490.3 C932.88 490.55 934.02 492.80 934.8 492.8 C935.58 492.28 938.00 486.55 938.8 486.0 C939.60 486.00 940.88 488.14 941.5 488.2 C942.12 488.20 943.35 487.26 944.0 486.5 C944.65 485.74 946.32 482.40 946.9 481.9 C947.48 481.90 948.30 481.90 948.8 482.3 C949.30 483.80 950.57 492.30 951.1 494.4 C951.63 496.50 952.65 499.80 953.2 499.8 C953.75 499.61 955.17 492.80 955.7 492.8 C956.23 493.05 957.11 500.81 957.6 501.9 C958.09 501.90 959.24 501.90 959.8 501.9 C960.36 502.50 961.66 506.37 962.3 506.9 C962.94 506.90 964.24 506.30 965.1 506.3 C965.96 506.83 968.72 511.30 969.5 511.3 C970.28 510.82 971.08 503.22 971.6 502.3 C972.12 502.30 973.20 503.60 973.8 503.6 C974.40 503.30 976.00 501.42 976.6 499.8 C977.20 498.18 978.24 491.54 978.8 490.1 C979.36 488.66 980.77 487.88 981.3 487.8 C981.83 487.80 982.67 489.40 983.2 489.4 C983.73 488.76 985.10 483.70 985.7 482.5 C986.30 481.30 987.37 479.52 988.2 479.4 C989.03 479.40 991.80 481.50 992.6 481.5 C993.40 481.36 994.30 478.20 994.9 478.2 C995.50 478.44 997.05 482.76 997.6 483.5 C998.15 484.24 998.97 483.69 999.5 484.4 C1000.03 485.11 1001.17 488.45 1002.0 489.4 C1002.83 490.35 1005.57 492.30 1006.4 492.3 C1007.23 492.00 1008.04 486.90 1008.9 486.9 C1009.76 487.24 1012.77 494.50 1013.6 495.1 C1014.43 495.10 1015.24 492.43 1015.8 491.9 C1016.36 491.37 1017.70 491.44 1018.3 490.7 C1018.90 489.96 1019.98 486.00 1020.8 485.7 C1021.62 485.70 1023.68 488.20 1025.1 488.2 C1026.52 488.12 1031.24 485.08 1032.6 485.0 C1033.96 485.00 1035.49 487.50 1036.4 487.5 C1037.31 487.48 1039.12 484.80 1040.2 484.8 C1041.28 485.03 1044.13 489.40 1045.4 489.4 C1046.67 489.35 1049.90 485.55 1050.8 484.4 C1051.70 483.25 1052.37 479.80 1052.9 479.8 C1053.43 480.40 1054.66 488.04 1055.2 489.4 C1055.74 490.76 1056.57 491.10 1057.4 491.1 C1058.23 490.96 1061.32 488.20 1062.1 488.2 C1062.88 488.22 1063.30 490.75 1063.9 491.3 C1064.50 491.85 1066.12 491.83 1067.1 492.8 C1068.08 493.77 1070.76 498.01 1072.1 499.4 C1073.44 500.79 1076.96 503.99 1078.3 504.4 C1079.64 504.40 1082.10 503.54 1083.3 502.8 C1084.50 502.06 1087.17 498.61 1088.3 498.2 C1089.43 498.20 1091.87 499.40 1092.7 499.4 C1093.53 498.20 1094.37 489.05 1095.2 488.2 C1096.03 488.20 1098.52 491.81 1099.6 492.3 C1100.68 492.30 1103.32 492.30 1104.2 492.3 C1105.08 491.86 1106.35 488.79 1106.9 488.6 C1107.45 488.60 1108.36 490.45 1108.8 490.7 C1109.24 490.70 1109.98 490.70 1110.6 490.7 C1111.22 491.11 1112.80 494.10 1114.0 494.1 C1115.20 493.91 1119.58 489.51 1120.6 489.1 C1121.55 489.10 1121.64 489.61 1122.5 490.7 C1123.36 491.79 1126.37 498.13 1127.8 498.2 C1129.23 498.20 1133.15 492.36 1134.4 491.3 C1135.65 490.24 1137.14 489.88 1138.2 489.4 C1139.26 488.92 1142.00 488.30 1143.2 487.3 C1144.40 486.30 1147.07 481.84 1148.2 481.1 C1149.33 481.10 1151.77 481.10 1152.6 481.1 C1153.43 479.80 1154.50 472.05 1155.1 470.3 C1155.70 468.55 1157.00 466.91 1157.6 466.5 C1158.20 466.50 1159.54 466.50 1160.1 466.9 C1160.66 467.48 1161.74 471.30 1162.3 471.3 C1162.86 470.45 1164.09 460.56 1164.8 459.8 C1165.51 459.80 1167.34 463.02 1168.2 465.0 C1169.06 466.98 1171.33 475.12 1172.0 476.3 C1172.67 476.30 1173.06 474.80 1173.8 474.8 C1174.54 476.83 1177.32 491.75 1178.2 493.2 C1179.08 493.20 1180.55 487.55 1181.1 486.9 C1181.65 486.90 1182.30 487.80 1182.8 487.8 C1183.30 487.40 1184.76 483.62 1185.3 483.6 C1185.84 483.60 1186.70 487.60 1187.3 487.6 C1187.90 487.30 1189.44 482.38 1190.3 481.1 C1191.16 479.82 1193.40 478.30 1194.5 476.9 C1195.60 475.50 1198.30 469.40 1199.5 469.4 C1200.70 469.63 1203.41 477.82 1204.5 478.8 C1205.59 478.80 1207.81 478.80 1208.6 477.6 C1209.39 476.22 1210.54 468.88 1211.1 467.3 C1211.66 465.72 1212.78 464.40 1213.3 464.4 C1213.82 464.70 1214.50 469.80 1215.4 469.8 C1216.30 469.27 1220.01 462.52 1220.8 460.0 C1221.40 458.09 1221.80 451.79 1222.0 448.8 C1222.20 445.81 1222.25 440.18 1222.5 435.1 C1222.79 429.24 1223.92 405.26 1224.4 400.0 C1224.88 394.74 1226.04 392.27 1226.5 391.3 C1226.96 391.30 1227.55 391.30 1228.2 391.9 C1228.85 394.67 1231.20 411.62 1231.9 414.4 C1232.60 415.10 1233.45 414.40 1234.0 415.1 C1234.55 416.23 1235.90 423.80 1236.5 423.8 C1237.10 423.42 1238.42 413.63 1239.0 411.9 C1239.58 410.17 1240.80 409.40 1241.3 409.4 C1241.80 409.47 1242.62 411.22 1243.2 412.5 C1243.78 413.78 1245.50 420.10 1246.1 420.1 C1246.70 419.20 1247.65 406.06 1248.2 405.0 C1248.75 405.00 1249.87 411.30 1250.7 411.3 C1251.53 410.93 1254.27 402.92 1255.1 401.9 C1255.93 401.90 1256.98 402.80 1257.6 402.8 C1258.22 402.66 1259.70 400.76 1260.3 400.7 C1260.90 400.70 1262.06 401.63 1262.6 402.3 C1263.14 402.97 1264.27 405.86 1264.8 406.3 C1265.33 406.30 1265.92 406.00 1267.0 406.0 C1268.08 407.32 1272.16 417.00 1273.8 417.3 C1275.44 417.30 1279.57 409.64 1280.7 408.5 C1281.83 407.80 1282.60 408.50 1283.2 407.8 C1283.80 407.06 1285.17 402.76 1285.7 402.3 C1286.23 402.30 1287.10 403.38 1287.6 404.0 C1288.10 404.62 1289.32 407.10 1289.9 407.5 C1290.48 407.50 1291.55 407.30 1292.4 407.3 C1293.25 407.90 1296.15 411.68 1297.0 412.5 C1297.85 413.32 1298.95 414.06 1299.5 414.1 C1300.05 414.10 1301.07 412.80 1301.6 412.8 C1302.13 412.99 1303.02 415.70 1303.9 415.7 C1304.78 415.34 1308.04 410.45 1308.9 409.8 C1309.76 409.80 1310.54 409.80 1311.1 410.3 C1311.66 410.85 1313.04 413.91 1313.6 414.4 C1314.16 414.40 1315.28 414.40 1315.8 414.4 C1316.32 414.60 1317.26 416.10 1317.9 416.1 C1318.54 415.66 1320.24 411.91 1321.1 410.7 C1321.96 409.49 1324.34 406.20 1325.1 406.0 C1325.86 406.00 1326.57 409.00 1327.4 409.0 C1328.23 408.36 1331.18 401.55 1332.0 400.7 C1332.82 400.70 1333.10 400.81 1334.2 401.9 C1335.30 402.99 1339.81 409.80 1341.2 409.8 C1342.59 409.80 1344.80 402.14 1345.8 401.9 C1346.80 401.90 1348.60 406.79 1349.5 407.8 C1350.40 408.81 1352.09 409.51 1353.3 410.3 C1354.51 411.09 1358.54 413.91 1359.6 414.4 C1360.66 414.40 1361.55 414.40 1362.1 414.4 C1362.65 414.63 1363.68 416.30 1364.2 416.3 C1364.72 415.89 1365.86 411.60 1366.4 411.0 C1366.94 411.00 1368.12 411.30 1368.7 411.3 C1369.28 411.06 1370.26 409.00 1371.2 409.0 C1372.14 409.37 1375.65 413.07 1376.5 414.4 C1377.35 415.73 1377.78 419.69 1378.3 420.1 C1378.82 420.10 1380.20 417.80 1380.8 417.8 C1381.40 417.82 1382.50 420.18 1383.3 420.3 C1384.10 420.30 1386.67 419.54 1387.5 418.8 C1388.33 418.06 1389.49 414.10 1390.2 414.1 C1390.91 414.56 1392.57 422.60 1393.4 422.6 C1394.23 422.44 1396.40 413.18 1397.1 412.8 C1397.80 412.80 1398.41 419.40 1399.2 419.4 C1399.99 418.64 1402.86 407.17 1403.7 406.5 C1404.54 406.50 1405.60 413.80 1406.2 413.8 C1406.80 413.50 1408.14 404.76 1408.7 404.0 C1409.26 404.00 1410.26 407.50 1410.9 407.5 C1411.54 406.90 1413.21 403.79 1414.0 399.0 C1414.79 394.21 1416.80 372.42 1417.5 367.6 C1418.20 362.78 1419.22 359.93 1419.8 358.8 C1420.38 358.20 1421.70 358.80 1422.3 358.2 C1422.90 355.04 1424.20 335.81 1424.8 332.5 C1425.40 330.60 1426.59 331.87 1427.3 330.6 C1428.01 329.33 1430.10 322.94 1430.7 321.9 C1431.30 321.90 1431.77 321.90 1432.3 321.9 C1432.83 323.63 1434.32 333.53 1435.1 336.3 C1435.88 339.07 1437.94 345.00 1438.8 345.0 C1439.66 343.72 1441.66 327.93 1442.3 325.6 C1442.94 325.60 1443.44 325.60 1444.1 325.6 C1444.76 327.06 1446.71 337.12 1447.8 337.8 C1448.89 337.80 1452.18 332.31 1453.2 331.3 C1454.22 330.29 1455.70 330.00 1456.3 329.4 C1456.90 328.80 1457.74 326.41 1458.2 326.3 C1458.66 326.30 1459.64 328.50 1460.1 328.5 C1460.56 328.22 1461.64 328.25 1462.0 324.0 C1462.36 319.75 1462.88 298.61 1463.1 293.1 C1463.32 287.59 1463.64 282.91 1463.8 278.1 C1463.96 273.29 1464.10 257.81 1464.4 253.0 C1464.70 248.19 1465.77 240.52 1466.3 238.0 C1466.83 235.48 1468.36 232.44 1468.8 232.0 C1469.24 232.00 1469.58 232.82 1470.0 234.3 C1470.42 235.78 1471.77 242.54 1472.3 244.3 C1472.83 246.06 1473.48 248.70 1474.4 249.0 C1475.32 249.00 1478.99 246.80 1480.0 246.8 C1481.01 247.40 1482.20 253.17 1482.8 254.0 C1483.40 254.00 1484.46 254.00 1485.0 253.7 C1485.54 252.86 1486.82 247.68 1487.3 247.0 C1487.78 247.00 1488.38 247.00 1489.0 248.0 C1489.62 249.85 1491.85 260.32 1492.5 262.4 C1493.15 264.48 1493.64 265.30 1494.4 265.3 C1495.16 264.93 1497.94 261.22 1498.8 259.3 C1499.66 257.38 1500.96 250.73 1501.6 249.3 C1502.24 247.87 1503.31 247.58 1504.1 247.4 C1504.89 247.40 1507.34 247.80 1508.2 247.8 C1509.06 246.37 1510.70 237.92 1511.3 235.5 C1511.90 233.08 1512.67 228.88 1513.2 227.6 C1513.73 226.32 1515.10 224.80 1515.7 224.8 C1516.30 225.10 1517.35 229.80 1518.2 230.1 C1519.05 230.10 1522.01 228.80 1522.8 227.3 C1523.59 225.80 1524.31 218.09 1524.8 217.6 C1525.29 217.60 1526.30 222.00 1526.9 223.2 C1527.50 224.40 1529.20 227.37 1529.8 227.6 C1530.40 227.60 1530.85 227.60 1531.9 225.1 C1533.21 219.47 1539.30 185.84 1540.7 180.7 C1542.10 180.70 1542.75 182.30 1543.6 182.3 C1544.45 181.50 1547.10 174.72 1547.8 174.0 C1548.50 174.00 1548.60 174.00 1549.4 176.3 C1550.24 178.95 1553.74 195.57 1554.8 196.1 C1555.86 196.10 1557.60 182.55 1558.2 180.7 C1558.80 180.70 1559.34 180.70 1559.8 180.7 C1560.26 182.12 1561.29 192.31 1562.0 192.5 C1562.71 192.50 1564.88 184.02 1565.7 182.3 C1566.52 180.58 1568.15 178.55 1568.8 178.2 C1569.45 178.20 1570.57 179.40 1571.1 179.4 C1571.63 179.32 1572.60 178.56 1573.2 177.5 C1573.80 176.44 1575.50 172.70 1576.1 170.6 C1576.70 168.50 1577.72 161.04 1578.2 160.0 C1578.68 160.00 1579.50 160.40 1580.1 161.9 C1580.70 163.40 1582.60 171.53 1583.2 172.5 C1583.80 172.50 1584.50 170.00 1585.1 170.0 C1585.70 170.58 1587.60 176.10 1588.2 177.3 C1588.80 178.50 1589.54 178.78 1590.1 180.0 C1590.66 181.22 1592.37 186.48 1592.9 187.5 C1593.43 188.50 1593.70 188.50 1594.5 188.5 C1595.34 188.24 1599.07 187.29 1599.9 185.3 C1600.65 183.50 1600.96 171.90 1601.4 171.9 C1601.84 172.14 1603.07 185.50 1603.6 187.3 C1604.13 187.30 1605.24 187.30 1605.8 186.9 C1606.36 186.48 1607.56 183.80 1608.3 183.8 C1609.04 184.17 1611.18 188.34 1612.0 190.0 C1612.82 191.66 1614.39 197.60 1615.1 197.6 C1615.81 196.40 1617.11 182.08 1617.9 180.0 C1618.69 180.00 1620.91 180.30 1621.7 180.3 C1622.49 180.08 1623.56 178.20 1624.5 178.2 C1625.44 179.34 1628.64 188.65 1629.5 189.8 C1630.36 189.80 1631.17 187.80 1631.7 187.8 C1632.23 188.51 1633.34 192.12 1633.9 195.7 C1634.46 199.28 1635.87 214.83 1636.4 217.6 C1636.93 218.80 1637.77 218.80 1638.3 218.8 C1638.83 217.18 1640.20 206.13 1640.8 204.1 C1641.40 202.07 1642.47 202.84 1643.3 201.9 C1644.13 200.96 1646.87 197.09 1647.7 196.3 C1648.53 195.51 1649.62 195.30 1650.2 195.3 C1650.78 195.67 1652.22 198.91 1652.5 199.4" fill="none" stroke="#5ba7af" stroke-width="2.2" stroke-linejoin="round" stroke-linecap="butt"/>
<path d="M90.0 585.5 H1655.0" stroke="#3f5667" stroke-width="1" fill="none"/>
<path d="M90.5 585.0 V591.0" stroke="#3f5667" stroke-width="1" fill="none"/>
<path d="M246.5 585.0 V591.0" stroke="#3f5667" stroke-width="1" fill="none"/>
<path d="M401.5 585.0 V591.0" stroke="#3f5667" stroke-width="1" fill="none"/>
<path d="M557.5 585.0 V591.0" stroke="#3f5667" stroke-width="1" fill="none"/>
<path d="M713.5 585.0 V591.0" stroke="#3f5667" stroke-width="1" fill="none"/>
<path d="M868.5 585.0 V591.0" stroke="#3f5667" stroke-width="1" fill="none"/>
<path d="M1024.5 585.0 V591.0" stroke="#3f5667" stroke-width="1" fill="none"/>
<path d="M1180.5 585.0 V591.0" stroke="#3f5667" stroke-width="1" fill="none"/>
<path d="M1335.5 585.0 V591.0" stroke="#3f5667" stroke-width="1" fill="none"/>
<path d="M1491.5 585.0 V591.0" stroke="#3f5667" stroke-width="1" fill="none"/>
<path d="M1647.5 585.0 V591.0" stroke="#3f5667" stroke-width="1" fill="none"/>
<path d="M1654.5 585.0 V591.0" stroke="#3f5667" stroke-width="1" fill="none"/>
<text transform="scale(1.07,1)" text-anchor="middle" y="604.1" font-size="14" fill="#9fadba" stroke="#9fadba" stroke-width="0.3" x="35.21 42.63 50.05 57.47 64.21 70.95 78.37 85.12 91.86 99.28">2025-07-04</text>
<text transform="scale(1.07,1)" text-anchor="middle" y="604.1" font-size="14" fill="#9fadba" stroke="#9fadba" stroke-width="0.3" x="116.09 121.89 127.68 135.15">9:40</text><path d="M118.91 594.15V604.10M118.76 594.65L115.96 598.55" fill="none" stroke="#9fadba" stroke-width="1.55"/>
<text transform="scale(1.07,1)" text-anchor="middle" y="604.1" font-size="14" fill="#9fadba" stroke="#9fadba" stroke-width="0.3" x="182.41 189.85 197.29 204.73 211.5 218.25 225.69 232.46 239.21 246.65">2025-07-05</text>
<text transform="scale(1.07,1)" text-anchor="middle" y="604.1" font-size="14" fill="#9fadba" stroke="#9fadba" stroke-width="0.3" x="262.88 268.46 278.65">2:5</text><path d="M276.22 594.15V604.10M276.07 594.65L273.27 598.55" fill="none" stroke="#9fadba" stroke-width="1.55"/><path d="M293.09 594.15V604.10M292.94 594.65L290.14 598.55" fill="none" stroke="#9fadba" stroke-width="1.55"/>
<text transform="scale(1.07,1)" text-anchor="middle" y="604.1" font-size="14" fill="#9fadba" stroke="#9fadba" stroke-width="0.3" x="324.93 332.35 339.77 347.19 353.93 360.67 368.09 374.84 381.58 389.0">2025-07-06</text>
<text transform="scale(1.07,1)" text-anchor="middle" y="604.1" font-size="14" fill="#9fadba" stroke="#9fadba" stroke-width="0.3" x="401.02 408.47 414.25 420.04 427.49">05:00</text>
<text transform="scale(1.07,1)" text-anchor="middle" y="604.1" font-size="14" fill="#9fadba" stroke="#9fadba" stroke-width="0.3" x="472.13 479.57 487.01 494.45 501.21 507.97 515.41 522.18 528.93 536.37">2025-07-06</text>
<text transform="scale(1.07,1)" text-anchor="middle" y="604.1" font-size="14" fill="#9fadba" stroke="#9fadba" stroke-width="0.3" x="548.07 558.5 564.21 571.56">2:45</text><path d="M594.14 594.15V604.10M593.99 594.65L591.19 598.55" fill="none" stroke="#9fadba" stroke-width="1.55"/>
<text transform="scale(1.07,1)" text-anchor="middle" y="604.1" font-size="14" fill="#9fadba" stroke="#9fadba" stroke-width="0.3" x="617.8 625.2 632.59 639.98 646.7 653.41 660.8 667.52 674.24 681.64">2025-07-07</text>
<text transform="scale(1.07,1)" text-anchor="middle" y="604.1" font-size="14" fill="#9fadba" stroke="#9fadba" stroke-width="0.3" x="697.67 703.4 709.12 716.5">4:30</text><path d="M741.28 594.15V604.10M741.13 594.65L738.33 598.55" fill="none" stroke="#9fadba" stroke-width="1.55"/>
<text transform="scale(1.07,1)" text-anchor="middle" y="604.1" font-size="14" fill="#9fadba" stroke="#9fadba" stroke-width="0.3" x="763.25 770.69 778.13 785.57 792.34 799.09 806.53 813.3 820.06 827.5">2025-07-08</text>
<text transform="scale(1.07,1)" text-anchor="middle" y="604.1" font-size="14" fill="#9fadba" stroke="#9fadba" stroke-width="0.3" x="838.83 846.03 851.62 861.82">07:5</text><path d="M917.08 594.15V604.10M916.93 594.65L914.13 598.55" fill="none" stroke="#9fadba" stroke-width="1.55"/>
<text transform="scale(1.07,1)" text-anchor="middle" y="604.1" font-size="14" fill="#9fadba" stroke="#9fadba" stroke-width="0.3" x="925.98 933.45 940.92 948.38 955.17 961.96 969.43 976.21 983.0 990.47">2025-07-09</text>
<text transform="scale(1.07,1)" text-anchor="middle" y="604.1" font-size="14" fill="#9fadba" stroke="#9fadba" stroke-width="0.3" x="1053.93 1061.39 1068.86 1076.33 1083.11 1089.91 1097.37 1104.16 1110.94 1118.41">2025-07-09</text>
<text transform="scale(1.07,1)" text-anchor="middle" y="604.1" font-size="14" fill="#9fadba" stroke="#9fadba" stroke-width="0.3" x="1134.41 1140.21 1146.0 1153.47">6:45</text><path d="M1208.51 594.15V604.10M1208.36 594.65L1205.56 598.55" fill="none" stroke="#9fadba" stroke-width="1.55"/>
<text transform="scale(1.07,1)" text-anchor="middle" y="604.1" font-size="14" fill="#9fadba" stroke="#9fadba" stroke-width="0.3" x="1199.14 1206.59 1214.04 1221.48 1228.24 1235.01 1242.46 1249.22 1260.77">2025-07-0</text><path d="M1343.73 594.15V604.10M1343.58 594.65L1340.78 598.55" fill="none" stroke="#9fadba" stroke-width="1.55"/>
<text transform="scale(1.07,1)" text-anchor="middle" y="604.1" font-size="14" fill="#9fadba" stroke="#9fadba" stroke-width="0.3" x="1272.79 1280.24 1286.03 1291.81 1299.26">09:30</text>
<text transform="scale(1.07,1)" text-anchor="middle" y="604.1" font-size="14" fill="#9fadba" stroke="#9fadba" stroke-width="0.3" x="1347.71 1355.1 1362.49 1369.88 1376.59 1383.3 1390.69 1397.4">2025-07-</text><path d="M1502.24 594.15V604.10M1502.09 594.65L1499.29 598.55" fill="none" stroke="#9fadba" stroke-width="1.55"/><path d="M1507.06 594.15V604.10M1506.91 594.65L1504.11 598.55" fill="none" stroke="#9fadba" stroke-width="1.55"/>
<text transform="scale(1.07,1)" text-anchor="middle" y="604.1" font-size="14" fill="#9fadba" stroke="#9fadba" stroke-width="0.3" x="1418.18 1425.55 1431.27 1441.73">02:5</text><path d="M1537.43 594.15V604.10M1537.28 594.65L1534.48 598.55" fill="none" stroke="#9fadba" stroke-width="1.55"/>
<text transform="scale(1.07,1)" text-anchor="middle" y="604.1" font-size="14" fill="#9fadba" stroke="#9fadba" stroke-width="0.3" x="1492.76 1500.13 1507.5 1514.89 1521.59 1528.29 1535.67 1542.37">2025-07-</text><path d="M1657.35 594.15V604.10M1657.20 594.65L1654.40 598.55" fill="none" stroke="#9fadba" stroke-width="1.55"/><path d="M1662.17 594.15V604.10M1662.02 594.65L1659.22 598.55" fill="none" stroke="#9fadba" stroke-width="1.55"/>
<text transform="scale(1.07,1)" text-anchor="middle" y="604.1" font-size="14" fill="#9fadba" stroke="#9fadba" stroke-width="0.3" x="1567.83 1573.73 1579.64 1587.23">9:00</text><path d="M1672.16 594.15V604.10M1672.01 594.65L1669.21 598.55" fill="none" stroke="#9fadba" stroke-width="1.55"/>
<text transform="scale(1.07,1)" text-anchor="middle" y="116.1" font-size="14" fill="#9fadba" stroke="#9fadba" stroke-width="0.3" x="56.83 64.21 71.8">20K</text><path d="M55.18 106.15V116.10M55.03 106.65L52.23 110.55" fill="none" stroke="#9fadba" stroke-width="1.55"/>
<text transform="scale(1.07,1)" text-anchor="middle" y="184.1" font-size="14" fill="#9fadba" stroke="#9fadba" stroke-width="0.3" x="64.2 71.79">8K</text><path d="M57.18 174.15V184.10M57.03 174.65L54.23 178.55" fill="none" stroke="#9fadba" stroke-width="1.55"/><path d="M63.05 174.15V184.10M62.90 174.65L60.10 178.55" fill="none" stroke="#9fadba" stroke-width="1.55"/>
<text transform="scale(1.07,1)" text-anchor="middle" y="251.1" font-size="14" fill="#9fadba" stroke="#9fadba" stroke-width="0.3" x="64.2 71.79">6K</text><path d="M57.18 241.15V251.10M57.03 241.65L54.23 245.55" fill="none" stroke="#9fadba" stroke-width="1.55"/><path d="M63.05 241.15V251.10M62.90 241.65L60.10 245.55" fill="none" stroke="#9fadba" stroke-width="1.55"/>
<text transform="scale(1.07,1)" text-anchor="middle" y="319.1" font-size="14" fill="#9fadba" stroke="#9fadba" stroke-width="0.3" x="64.2 71.79">4K</text><path d="M57.18 309.15V319.10M57.03 309.65L54.23 313.55" fill="none" stroke="#9fadba" stroke-width="1.55"/><path d="M63.05 309.15V319.10M62.90 309.65L60.10 313.55" fill="none" stroke="#9fadba" stroke-width="1.55"/>
<text transform="scale(1.07,1)" text-anchor="middle" y="386.1" font-size="14" fill="#9fadba" stroke="#9fadba" stroke-width="0.3" x="64.28 71.82">2K</text><path d="M57.36 376.15V386.10M57.21 376.65L54.41 380.55" fill="none" stroke="#9fadba" stroke-width="1.55"/><path d="M63.19 376.15V386.10M63.04 376.65L60.24 380.55" fill="none" stroke="#9fadba" stroke-width="1.55"/>
<text transform="scale(1.07,1)" text-anchor="middle" y="454.1" font-size="14" fill="#9fadba" stroke="#9fadba" stroke-width="0.3" x="64.23 71.81">0K</text><path d="M57.27 444.15V454.10M57.12 444.65L54.32 448.55" fill="none" stroke="#9fadba" stroke-width="1.55"/><path d="M63.12 444.15V454.10M62.97 444.65L60.17 448.55" fill="none" stroke="#9fadba" stroke-width="1.55"/>
<text transform="scale(1.07,1)" text-anchor="middle" y="521.1" font-size="14" fill="#9fadba" stroke="#9fadba" stroke-width="0.3" x="56.64 64.09 71.77">08K</text><path d="M54.91 511.15V521.10M54.76 511.65L51.96 515.55" fill="none" stroke="#9fadba" stroke-width="1.55"/>
<text transform="scale(1.07,1)" text-anchor="middle" y="589.1" font-size="14" fill="#9fadba" stroke="#9fadba" stroke-width="0.3" x="56.58 64.06 71.75">06K</text><path d="M54.82 579.15V589.10M54.67 579.65L51.87 583.55" fill="none" stroke="#9fadba" stroke-width="1.55"/>
<text x="789.4" y="57.8" font-size="25" font-weight="700" fill="#ffffff" textLength="131.8" lengthAdjust="spacingAndGlyphs">Btcusd:cur</text>
<path d="M789.1 40.5h2.2v2.6h-2.2zM789.1 55.3h2.2v2.6h-2.2z" fill="#ffffff"/>
<text x="1461.7" y="661" font-size="13" fill="#617486" textLength="231" lengthAdjust="spacingAndGlyphs">© Brieuc Leysour - Trader Vision Pro</text>
</svg>
</body></html>
